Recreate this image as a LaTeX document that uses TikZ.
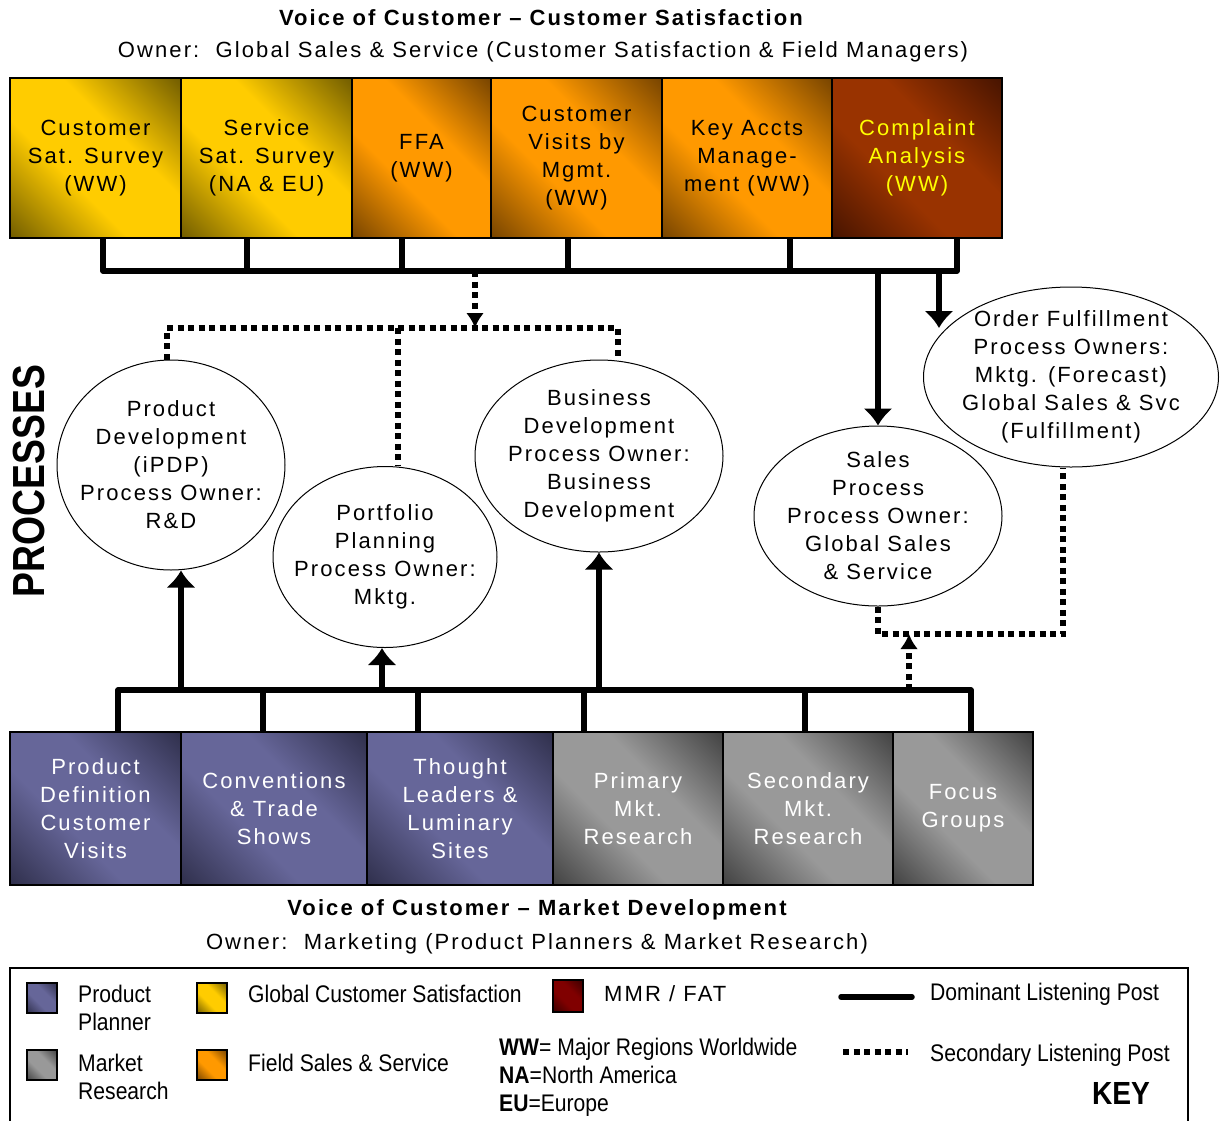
\documentclass[tikz,border=0pt]{standalone}
\usepackage{fontspec}
\setmainfont{Liberation Sans}[LetterSpace=9.5]
\newfontfamily\keyfamily{Liberation Sans}[FakeStretch=0.88]
\newfontfamily\procfamily{Liberation Sans}[FakeStretch=0.83]
\usetikzlibrary{shapes.geometric,arrows.meta}

\definecolor{ylight}{HTML}{FFCC00}
\definecolor{ydark}{HTML}{6E5A00}
\definecolor{olight}{HTML}{FF9900}
\definecolor{odark}{HTML}{744200}
\definecolor{rlight}{HTML}{993300}
\definecolor{rdark}{HTML}{451300}
\definecolor{plight}{HTML}{666699}
\definecolor{pdark}{HTML}{2E2E4A}
\definecolor{glight}{HTML}{999999}
\definecolor{gdark}{HTML}{404040}
\definecolor{mlight}{HTML}{800000}
\definecolor{mdark}{HTML}{380000}
\definecolor{complainttext}{HTML}{FFFF00}
\colorlet{cdark}{black}
\colorlet{clight}{white}
\pgfdeclareverticalshading[cdark,clight]{cornerfade}{100bp}{color(0bp)=(cdark); color(14bp)=(cdark); color(40bp)=(clight); color(60bp)=(clight); color(86bp)=(cdark); color(100bp)=(cdark)}

\newcommand\boxfont{\fontsize{22}{28}\selectfont}
\newcommand\titlefont{\fontsize{22}{28}\selectfont\bfseries}
\newcommand\keyfont{\keyfamily\fontsize{24}{28}\selectfont}

\begin{document}
\begin{tikzpicture}
    [
    x=1pt, y=-1pt,
    post/.style={draw,line width=1.2pt,inner sep=0pt,outer sep=0pt,align=center,font=\boxfont},
    toppost/.style={post,minimum height=160pt},
    botpost/.style={post,minimum height=153pt,text=white},
    fade/.style 2 args={/utils/exec={\colorlet{cdark}{#1}\colorlet{clight}{#2}},shading=cornerfade,shading angle=-45},
    process/.style={ellipse,draw,line width=1pt,inner sep=0pt},
    proclabel/.style={font=\boxfont,align=center,inner sep=0pt},
    dominant/.style={line width=5.5pt,line join=round},
    secondary/.style={line width=5.5pt,dash pattern=on 6pt off 4.5pt},
    bigtip/.style={-{Latex[length=17pt,width=30pt]}},
    smalltip/.style={-{Latex[length=15pt,width=18pt]}},
    swatch/.style={draw,line width=1.2pt,minimum width=30pt,minimum height=30pt,inner sep=0pt},
    keytext/.style={anchor=west,align=left,font=\keyfont,inner sep=0pt},
    heading/.style={font=\titlefont,inner sep=0pt},
    owner/.style={font=\boxfont,inner sep=0pt}
    ]
    \useasboundingbox (0,0) rectangle (1221,1120);

    \node (voctop) at (541,18) [heading] {Voice of Customer – Customer Satisfaction};
    \node (owntop) at (543,52) [owner] {Owner:\ \ Global Sales \& Service (Customer Satisfaction \& Field Managers)};

    \node (c1) at (95.5,158) [toppost,minimum width=171pt,fade={ydark}{ylight}] {Customer\\Sat. Survey\\(WW)};
    \node (c2) at (266.5,158) [toppost,minimum width=171pt,fade={ydark}{ylight}] {Service\\Sat. Survey\\(NA \& EU)};
    \node (c3) at (421.5,158) [toppost,minimum width=139pt,fade={odark}{olight}] {FFA\\(WW)};
    \node (c4) at (576.5,158) [toppost,minimum width=171pt,fade={odark}{olight}] {Customer\\Visits by\\Mgmt.\\(WW)};
    \node (c5) at (747,158) [toppost,minimum width=170pt,fade={odark}{olight}] {Key Accts\\Manage-\\ment (WW)};
    \node (c6) at (917,158) [toppost,minimum width=170pt,fade={rdark}{rlight},text=complainttext] {Complaint\\Analysis\\(WW)};

    \node (procs) at (29,481) [rotate=90,font=\procfamily\fontsize{45}{45}\selectfont\bfseries,inner sep=0pt] {PROCESSES};

    \node (pd) at (171,465) [process,minimum width=228pt,minimum height=210pt,label={[proclabel]center:{Product\\Development\\(iPDP)\\Process Owner:\\R\&D}}] {};
    \node (pp) at (385,557) [process,minimum width=224pt,minimum height=181pt,label={[proclabel]center:{Portfolio\\Planning\\Process Owner:\\Mktg.}}] {};
    \node (bd) at (599,456) [process,minimum width=248pt,minimum height=192pt,label={[proclabel]center:{Business\\Development\\Process Owner:\\Business\\Development}}] {};
    \node (sales) at (878,516) [process,minimum width=248pt,minimum height=180pt,label={[proclabel]center:{Sales\\Process\\Process Owner:\\Global Sales\\\& Service}}] {};
    \node (order) at (1071,377) [process,minimum width=295pt,minimum height=180pt,label={[proclabel]center:{Order Fulfillment\\Process Owners:\\Mktg. (Forecast)\\Global Sales \& Svc\\(Fulfillment)}}] {};

    \node (m1) at (95.5,808.5) [botpost,minimum width=171pt,fade={pdark}{plight}] {Product\\Definition\\Customer\\Visits};
    \node (m2) at (274,808.5) [botpost,minimum width=186pt,fade={pdark}{plight}] {Conventions\\\& Trade\\Shows};
    \node (m3) at (460,808.5) [botpost,minimum width=186pt,fade={pdark}{plight}] {Thought\\Leaders \&\\Luminary\\Sites};
    \node (m4) at (638,808.5) [botpost,minimum width=170pt,fade={gdark}{glight}] {Primary\\Mkt.\\Research};
    \node (m5) at (808,808.5) [botpost,minimum width=170pt,fade={gdark}{glight}] {Secondary\\Mkt.\\Research};
    \node (m6) at (963,808.5) [botpost,minimum width=140pt,fade={gdark}{glight}] {Focus\\Groups};

    \node (vocbot) at (537,910) [heading] {Voice of Customer – Market Development};
    \node (ownbot) at (537,944) [owner] {Owner:\ \ Marketing (Product Planners \& Market Research)};

    \coordinate (tb1) at (103,271);
    \coordinate (tb2) at (247,271);
    \coordinate (tb3) at (402,271);
    \coordinate (tb4) at (568,271);
    \coordinate (tb5) at (790,271);
    \coordinate (tb6) at (957,271);
    \draw [dominant] (c1.south -| tb1) -- (tb1) -- (tb6) -- (c6.south -| tb6);
    \foreach \i in {2,...,5}
        \draw [dominant] (c\i.south -| tb\i) to (tb\i);

    \coordinate (tv) at (475,271);
    \coordinate (jv) at (475,328);
    \coordinate (jl) at (167,328);
    \coordinate (jm) at (398,328);
    \coordinate (jr) at (618,328);
    \draw [secondary,smalltip] (tv) to (jv);
    \draw [secondary] (jl |- pd.north) -- (jl) -- (jr) -- (jr |- bd.north);
    \draw [secondary] (jm) to (jm |- pp.north);

    \coordinate (ts) at (878,271);
    \coordinate (to) at (939,271);
    \coordinate (te) at (939,328);
    \draw [dominant,bigtip] (ts) to (sales.north);
    \draw [dominant,bigtip] (to) to (te);

    \coordinate (bb1) at (118,690);
    \coordinate (bb2) at (263,690);
    \coordinate (bb3) at (418,690);
    \coordinate (bb4) at (584,690);
    \coordinate (bb5) at (805,690);
    \coordinate (bb6) at (971,690);
    \draw [dominant] (m1.north -| bb1) -- (bb1) -- (bb6) -- (m6.north -| bb6);
    \foreach \i in {2,...,5}
        \draw [dominant] (m\i.north -| bb\i) to (bb\i);

    \coordinate (ba1) at (181,690);
    \coordinate (ba2) at (382,690);
    \coordinate (ba3) at (599,690);
    \draw [dominant,bigtip] (ba1) to (ba1 |- pd.south);
    \draw [dominant,bigtip] (ba2) to (ba2 |- pp.south);
    \draw [dominant,bigtip] (ba3) to (ba3 |- bd.south);

    \coordinate (bs) at (909,690);
    \coordinate (js) at (909,634);
    \coordinate (jo) at (1063,634);
    \draw [secondary,smalltip] (bs) to (js);
    \draw [secondary] (sales.south) -- (sales.south |- js) -- (jo) -- (jo |- order.south);

    \draw [line width=1.5pt] (10,1140) -- (10,968) -- (1188,968) -- (1188,1140);

    \node (kpp) at (42,998) [swatch,fade={pdark}{plight}] {};
    \node (kmr) at (42,1065) [swatch,fade={gdark}{glight}] {};
    \node (kcs) at (212,998) [swatch,fade={ydark}{ylight}] {};
    \node (kfs) at (212,1065) [swatch,fade={odark}{olight}] {};
    \node (kmf) at (568,996) [swatch,minimum height=32pt,fade={mdark}{mlight}] {};
    \node (kppt) at (78,1008) [keytext] {Product\\Planner};
    \node (kmrt) at (78,1077) [keytext] {Market\\Research};
    \node (kcst) at (248,994) [keytext] {Global Customer Satisfaction};
    \node (kfst) at (248,1063) [keytext] {Field Sales \& Service};
    \node (kmft) at (604,994) [owner,anchor=west] {MMR / FAT};
    \node (kabbr) at (499,1077) [keytext] {\textbf{WW}= Major Regions Worldwide\\\textbf{NA}=North America\\\textbf{EU}=Europe};

    \coordinate (kd1) at (841,997);
    \coordinate (kd2) at (912,997);
    \coordinate (ks1) at (843,1052);
    \coordinate (ks2) at (908,1052);
    \draw [dominant,line cap=round] (kd1) to (kd2);
    \draw [secondary] (ks1) to (ks2);
    \node (kdt) at (930,994) [keytext] {Dominant Listening Post};
    \node (kst) at (930,1055) [keytext] {Secondary Listening Post};
    \node (key) at (1121,1093) [font=\keyfamily\fontsize{32}{32}\selectfont\bfseries,inner sep=0pt] {KEY};
\end{tikzpicture}
\end{document}
